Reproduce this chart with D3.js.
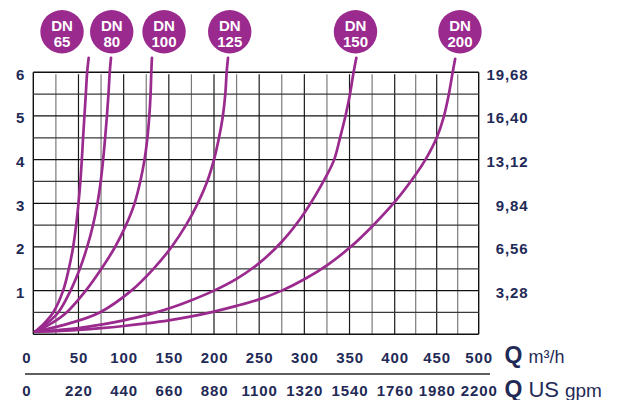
<!DOCTYPE html>
<html>
<head>
<meta charset="utf-8">
<script src="https://cdn.jsdelivr.net/npm/d3@7"></script>
<style>
  html, body { margin: 0; padding: 0; background: #fff; }
  svg { display: block; }
  text { font-family: "Liberation Sans", Arial, Helvetica, sans-serif; }
</style>
</head>
<body>
<svg id="chart" width="622" height="400"></svg>
<script>
// ---------- data ----------
const qTicks = [0, 50, 100, 150, 200, 250, 300, 350, 400, 450, 500];
const gpmLabels = ["0", "220", "440", "660", "880", "1100", "1320", "1540", "1760", "1980", "2200"];
const hTicks = [1, 2, 3, 4, 5, 6];
const ftLabels = ["3,28", "6,56", "9,84", "13,12", "16,40", "19,68"];
const seriesNames = ["65", "80", "100", "125", "150", "200"];
const labelQ = [31.8, 86.8, 144.7, 217.4, 356.6, 477.7];

// [Q m³/h, head loss]
const dn65 = [[2,0.06],[12,0.25],[22,0.5],[33,1],[39.3,1.5],[44.1,2],[47.4,2.5],[50,3],[52.1,3.5],[53.7,4],[55.1,4.5],[56.6,5],[58.1,5.5],[59.6,6],[61.3,6.33]];
const dn80 = [[2,0.06],[15,0.25],[27.6,0.5],[41.2,1],[51.5,1.5],[59.6,2],[66.1,2.5],[71,3],[74.6,3.5],[77.3,4],[79.5,4.5],[81.5,5],[83.2,5.5],[84.6,6],[86,6.33]];
const dn100 = [[2,0.06],[20,0.25],[36.8,0.5],[58.1,1],[75.4,1.5],[90.5,2],[102.6,2.5],[112.1,3],[118.4,3.5],[123.1,4],[126.3,4.5],[128.4,5],[129.8,5.5],[130.6,6],[131.3,6.33]];
const dn125 = [[2,0.06],[40,0.25],[73.5,0.5],[108.5,1],[133,1.5],[153,2],[169,2.5],[182,3],[192.5,3.5],[200,4],[205.5,4.5],[209.8,5],[212.5,5.5],[214,6],[215.5,6.33]];
const dn150 = [[2,0.06],[25,0.09],[50,0.14],[75,0.22],[100,0.32],[125,0.44],[150,0.59],[175,0.78],[200,1.0],[225,1.27],[250,1.63],[275,2.12],[300,2.78],[325,3.65],[333,4.0],[339.5,4.5],[345.5,5.0],[350.5,5.5],[354.5,6.0],[357.5,6.33]];
const dn200 = [[2,0.06],[25,0.07],[50,0.1],[75,0.14],[100,0.19],[125,0.25],[150,0.32],[175,0.41],[200,0.52],[225,0.65],[250,0.8],[275,1.0],[300,1.26],[325,1.58],[350,1.98],[375,2.47],[400,3.03],[425,3.66],[437.5,4.03],[450,4.5],[458,4.95],[464,5.45],[469,6.0],[472,6.31]];
const allSeries = [dn65, dn80, dn100, dn125, dn150, dn200];

// ---------- layout ----------
const navy = "#1f2a56";
const purple = "#9a2a8e";
const pLeft = 33.3, pMid = 394.7, pRight = 478.7, pTop = 72.3, pBottom = 334.3;

const svg = d3.select("#chart");
const x = d3.scaleLinear().domain([0, 400, 500]).range([pLeft, pMid, pRight]);
const y = d3.scaleLinear().domain([0, 6]).range([pBottom, pTop]);

// ---------- grid ----------
const g = svg.append("g");
const vLines = d3.range(0, 501, 25);
g.selectAll("line.v").data(vLines).join("line")
  .attr("x1", d => x(d)).attr("x2", d => x(d))
  .attr("y1", d => (d === 0 || d === 500) ? pTop : pTop + 2).attr("y2", pBottom)
  .attr("stroke", (d, i) => (d === 0 || d === 500) ? "#111" : (i % 2 ? "#7a7a7a" : "#1a1a1a"))
  .attr("stroke-width", (d) => (d === 0 || d === 500) ? 1.4 : 1.2);
const hLines = d3.range(0, 6.01, 0.5);
g.selectAll("line.h").data(hLines).join("line")
  .attr("x1", pLeft).attr("x2", pRight)
  .attr("y1", d => y(d)).attr("y2", d => y(d))
  .attr("stroke", (d, i) => (i % 2 ? "#3a3a3a" : "#111"))
  .attr("stroke-width", d => (d === 0 || d === 6) ? 1.4 : 1.2);

// ---------- curves ----------
const line = d3.line().x(d => x(d[0])).y(d => y(d[1])).curve(d3.curveCatmullRom.alpha(0.5));
svg.append("g").selectAll("path").data(allSeries).join("path")
  .attr("d", line)
  .attr("fill", "none")
  .attr("stroke", purple)
  .attr("stroke-width", 2.7)
  .attr("stroke-linecap", "round")
  .attr("stroke-linejoin", "round");

// ---------- DN badges ----------
const badges = svg.append("g").selectAll("g").data(seriesNames).join("g")
  .attr("transform", (d, i) => `translate(${x(labelQ[i])},31.7)`);
badges.append("circle").attr("r", 21.7).attr("fill", purple);
badges.append("text").attr("y", -1.2).attr("text-anchor", "middle")
  .attr("fill", "#fff").attr("font-weight", "bold").attr("font-size", 15).text("DN");
badges.append("text").attr("y", 15.4).attr("text-anchor", "middle")
  .attr("fill", "#fff").attr("font-weight", "bold").attr("font-size", 15).text(d => d);

// ---------- axes ----------
function styleAxis(sel) {
  sel.select(".domain").remove();
  sel.selectAll(".tick line").remove();
  sel.selectAll(".tick text")
    .attr("fill", navy).attr("font-weight", "bold").attr("font-size", 15)
    .attr("letter-spacing", "0.9px");
}
const yLeft = svg.append("g").attr("transform", `translate(${pLeft},2)`)
  .call(d3.axisLeft(y).tickValues(hTicks).tickFormat(d3.format("d")).tickSize(0).tickPadding(8))
  .call(styleAxis);
const yRight = svg.append("g").attr("transform", `translate(${pLeft},2)`)
  .call(d3.axisLeft(y).tickValues(hTicks).tickFormat((d, i) => ftLabels[i]).tickSize(0).tickPadding(-(528.5 - pLeft)))
  .call(styleAxis);
yRight.selectAll(".tick text").attr("text-anchor", "end");

const xTop = svg.append("g").attr("transform", `translate(0,362.7)`)
  .call(d3.axisBottom(x).tickValues(qTicks).tickFormat(d3.format("d")).tickSize(0).tickPadding(0))
  .call(styleAxis);
xTop.selectAll(".tick text").attr("dy", 0);
const xBot = svg.append("g").attr("transform", `translate(0,396)`)
  .call(d3.axisBottom(x).tickValues(qTicks).tickFormat((d, i) => gpmLabels[i]).tickSize(0).tickPadding(0))
  .call(styleAxis);
xBot.selectAll(".tick text").attr("dy", 0);
[xTop, xBot].forEach(a => a.selectAll(".tick text").filter(d => d === 0).attr("dx", -7));

// separator line
svg.append("line").attr("x1", 25).attr("x2", 490).attr("y1", 374).attr("y2", 374)
  .attr("stroke", "#2a2a2a").attr("stroke-width", 1.5);

// unit labels
const u1 = svg.append("text").attr("x", 504.5).attr("y", 363).attr("fill", navy);
u1.append("tspan").attr("font-weight", "bold").attr("font-size", 23).text("Q");
u1.append("tspan").attr("dx", 6).attr("font-size", 18).text("m³/h");
const u2 = svg.append("text").attr("x", 504.5).attr("y", 396.5).attr("fill", navy);
u2.append("tspan").attr("font-weight", "bold").attr("font-size", 23).text("Q");
u2.append("tspan").attr("dx", 6).attr("font-size", 22).text("US");
u2.append("tspan").attr("dx", 6).attr("font-size", 19).text("gpm");
</script>
</body>
</html>
